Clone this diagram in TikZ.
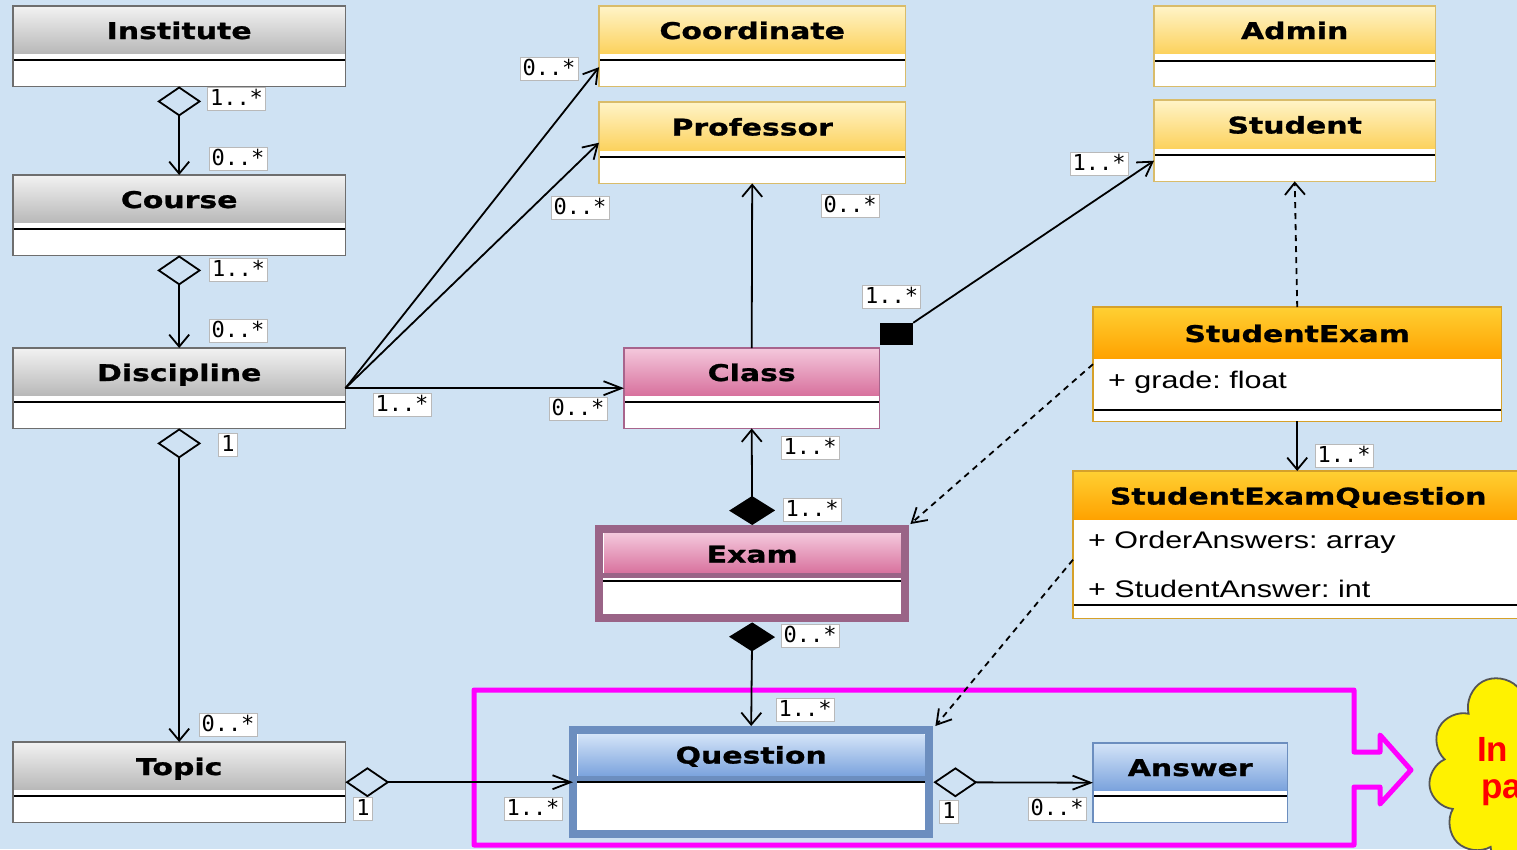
\documentclass[tikz,border=0pt]{standalone}
\usepackage{fontspec}
\usetikzlibrary{arrows.meta,shapes.symbols,calc}

\newfontfamily\headfont[FakeStretch=1.3,FakeBold=1]{DejaVu Sans}
\newfontfamily\multfont{DejaVu Sans Mono}
\newfontfamily\attrfont[FakeStretch=1.27]{Liberation Sans}
\newfontfamily\cloudfont{Liberation Sans}
\frenchspacing

\definecolor{wash}{HTML}{CFE2F3}
\definecolor{graytop}{HTML}{F2F2F2}
\definecolor{graybot}{HTML}{B9B9B9}
\definecolor{grayline}{HTML}{6E6E6E}
\definecolor{yellowtop}{HTML}{FFF4C8}
\definecolor{yellowbot}{HTML}{FCD25E}
\definecolor{yellowline}{HTML}{D9BC6A}
\definecolor{pinktop}{HTML}{F4C8DC}
\definecolor{pinkbot}{HTML}{D8729E}
\definecolor{pinkline}{HTML}{A8648C}
\definecolor{orangetop}{HTML}{FFD033}
\definecolor{orangebot}{HTML}{FFA200}
\definecolor{orangeline}{HTML}{D6A12A}
\definecolor{bluetop}{HTML}{D4E4F8}
\definecolor{bluebot}{HTML}{7BA3DD}
\definecolor{blueline}{HTML}{6C8EBF}
\definecolor{examline}{HTML}{9A6487}
\definecolor{magframe}{HTML}{FF00FF}
\definecolor{cloudline}{HTML}{555555}

\tikzset{
  classbox/.style={anchor=north west,fill=white,inner sep=0pt,draw=none},
  headtext/.style={inner sep=0pt,text height=17pt,text depth=0pt,
    font=\headfont\bfseries\fontsize{23}{26}\selectfont},
  attrtext/.style={anchor=west,inner sep=0pt,font=\attrfont\fontsize{24}{28}\selectfont},
  sepline/.style={black,line width=1.6pt},
  mult/.style={draw=gray!55,line width=0.8pt,fill=white,inner xsep=2.5pt,inner ysep=2pt,
    text height=16pt,text depth=3pt,font=\multfont\fontsize{22}{24}\selectfont},
  assoc/.style={line width=1.8pt},
  depend/.style={line width=1.8pt,dash pattern=on 6pt off 5pt},
  aggv/.tip={Diamond[open,length=30pt,width=44pt,line width=1.8pt]},
  aggh/.tip={Diamond[open,length=44pt,width=30pt,line width=1.8pt]},
  compv/.tip={Diamond[length=29pt,width=46pt]},
  openv/.tip={Straight Barb[length=12pt,width=20pt,line width=1.8pt]},
  openh/.tip={Straight Barb[length=18pt,width=14pt,line width=1.8pt]},
  opend/.tip={Straight Barb[length=14pt,width=17pt,line width=1.8pt]},
}

% #1 name, #2 top-left corner, #3 width, #4 height, #5 palette,
% #6 header height, #7 separator offset, #8 title
\newcommand\umlclass[8]{%
  \node[classbox,minimum width=#3pt,minimum height=#4pt] (#1) at (#2) {};
  \shade[top color=#5top,bottom color=#5bot]
    (#1.north west) rectangle ([yshift=-#6pt]#1.north east);
  \draw[sepline] ([yshift=-#7pt]#1.north west) -- ([yshift=-#7pt]#1.north east);
  \draw[#5line,line width=1.6pt] (#1.north west) rectangle (#1.south east);
  \node[headtext] (#1-title) at ([yshift=-#6pt/2-1pt]#1.north) {#8};
}

\begin{document}
\begin{tikzpicture}[x=1pt,y=-1pt]

  % Background
  \useasboundingbox (0,0) rectangle (1517,849);
  \fill[wash] (0,0) rectangle (1517,849);
  \clip (0,0) rectangle (1517,849);

  % ---------------------------------------------------------------- FRAME + CLOUD
  \draw[magframe,line width=5pt,line join=round]
    (474,690) -- (1354,690) -- (1354,752) -- (1380,752) -- (1380,735)
    -- (1411,770) -- (1380,804) -- (1380,787) -- (1354,787) -- (1354,845)
    -- (474,845) -- cycle;
  \node[cloud,cloud puffs=11,aspect=1.2,draw=cloudline,fill=yellow,line width=1.8pt,
    minimum width=235pt,minimum height=215pt] (bubble) at (1546,772) {};
  \node[anchor=west,inner sep=0pt,text=red,font=\cloudfont\bfseries\fontsize{35}{40}\selectfont]
    (bubble-l1) at (1477,749) {In};
  \node[anchor=west,inner sep=0pt,text=red,font=\cloudfont\bfseries\fontsize{35}{40}\selectfont]
    (bubble-l2) at (1481,793) {pa};

  % ---------------------------------------------------------------- CLASSES
  \umlclass{inst}{13,6}{332}{80}{gray}{47}{54}{Institute}
  \umlclass{course}{13,175}{332}{80}{gray}{47}{54}{Course}
  \umlclass{disc}{13,348}{332}{80}{gray}{47}{54}{Discipline}
  \umlclass{topic}{13,742}{332}{80}{gray}{47}{54}{Topic}
  \umlclass{coord}{599,6}{306}{80}{yellow}{47}{54}{Coordinate}
  \umlclass{prof}{599,102}{306}{81}{yellow}{48}{55}{Professor}
  \umlclass{admin}{1154,6}{281}{80}{yellow}{47}{55}{Admin}
  \umlclass{stud}{1154,100}{281}{81}{yellow}{48}{55}{Student}
  \umlclass{class}{624,348}{255}{80}{pink}{47}{54}{Class}
  \umlclass{answer}{1093,743}{194}{79}{blue}{47}{53}{Answer}
  \umlclass{sexam}{1093,307}{408}{114}{orange}{51}{103}{StudentExam}
  \umlclass{seq}{1073,471}{450}{147}{orange}{48}{134}{StudentExamQuestion}

  \node[attrtext] (sexam-a1) at (1108,382) {+ grade: float};
  \node[attrtext] (seq-a1) at (1088,542) {+ OrderAnswers: array};
  \node[attrtext] (seq-a2) at (1088,589) {+ StudentAnswer: int};

  % Exam: thick frame
  \node[classbox,minimum width=306pt,minimum height=89pt] (exam) at (599,529) {};
  \shade[top color=pinktop,bottom color=pinkbot]
    ([shift={(5pt,-4pt)}]exam.north west) rectangle ([shift={(-5pt,-44pt)}]exam.north east);
  \draw[examline,line width=5pt] ([yshift=-46pt]exam.north west) -- ([yshift=-46pt]exam.north east);
  \draw[sepline] ([yshift=-52pt]exam.north west) -- ([yshift=-52pt]exam.north east);
  \draw[examline,line width=8pt] (exam.north west) rectangle (exam.south east);
  \node[headtext] (exam-title) at ([yshift=-25pt]exam.north) {Exam};

  % Question: thick frame
  \node[classbox,minimum width=356pt,minimum height=104pt] (quest) at (573,730) {};
  \shade[top color=bluetop,bottom color=bluebot]
    ([shift={(5pt,-4pt)}]quest.north west) rectangle ([shift={(-5pt,-46pt)}]quest.north east);
  \draw[blueline,line width=5pt] ([yshift=-48pt]quest.north west) -- ([yshift=-48pt]quest.north east);
  \draw[sepline] ([yshift=-52pt]quest.north west) -- ([yshift=-52pt]quest.north east);
  \draw[blueline,line width=8pt] (quest.north west) rectangle (quest.south east);
  \node[headtext] (quest-title) at ([yshift=-25pt]quest.north) {Question};

  % Class end of the Class--Student link
  \node[fill=black,inner sep=0pt,minimum width=33pt,minimum height=22pt] (clsq) at (896.5,334) {};

  % ---------------------------------------------------------------- CONNECTORS
  \draw[assoc,aggv-openv] (inst.south) -- (course.north);
  \draw[assoc,aggv-openv] (course.south) -- (disc.north);
  \draw[assoc,aggv-openv] (disc.south) -- (topic.north);
  \draw[assoc,aggh-openh] (topic.east) -- (quest.west);
  \draw[assoc,-opend] (disc.east) -- ([yshift=-21pt]coord.west);
  \draw[assoc,-opend] (disc.east) -- (prof.west);
  \draw[assoc,-openh] (disc.east) -- (class.west);
  \draw[assoc,-openv] (class.north) -- (prof.south);
  \draw[assoc,-opend] (clsq.north east) -- ([yshift=-20pt]stud.west);
  \draw[assoc,compv-openv] ([yshift=4pt]exam.north) -- (class.south);
  \draw[assoc,compv-openv] ([yshift=-4pt]exam.south) -- ([yshift=4pt]quest.north);
  \draw[assoc,aggh-openh] ([xshift=4pt]quest.east) -- (answer.west);
  \draw[assoc,-openv] (sexam.south) -- (sexam.south |- seq.north);
  \draw[depend,-openv] (sexam.north) -- (stud.south);
  \draw[depend,-opend] (sexam.west) -- ([shift={(5pt,5pt)}]exam.north east);
  \draw[depend,-opend] ([yshift=-15pt]seq.west) -- ([shift={(6pt,4pt)}]quest.north east);

  % ---------------------------------------------------------------- MULTIPLICITIES
  \node[mult] (m-inst) at (236.5,99) {1..*};
  \node[mult] (m-course1) at (238,159) {0..*};
  \node[mult] (m-course2) at (238.5,270) {1..*};
  \node[mult] (m-disc1) at (238,331) {0..*};
  \node[mult] (m-disc2) at (228,444.5) {1};
  \node[mult] (m-topic1) at (228,724.5) {0..*};
  \node[mult] (m-topic2) at (363,809) {1};
  \node[mult] (m-quest1) at (533,808.5) {1..*};
  \node[mult] (m-coord) at (549,69) {0..*};
  \node[mult] (m-prof1) at (580,208) {0..*};
  \node[mult] (m-disc3) at (402,405) {1..*};
  \node[mult] (m-class1) at (578,409) {0..*};
  \node[mult] (m-prof2) at (850,206) {0..*};
  \node[mult] (m-class2) at (891.5,297) {1..*};
  \node[mult] (m-stud) at (1099,164) {1..*};
  \node[mult] (m-seq) at (1344,455.5) {1..*};
  \node[mult] (m-class3) at (810,448) {1..*};
  \node[mult] (m-exam1) at (812,510) {1..*};
  \node[mult] (m-exam2) at (810,636) {0..*};
  \node[mult] (m-quest2) at (805,710) {1..*};
  \node[mult] (m-quest3) at (949,811.5) {1};
  \node[mult] (m-answer) at (1057,809) {0..*};

\end{tikzpicture}
\end{document}
